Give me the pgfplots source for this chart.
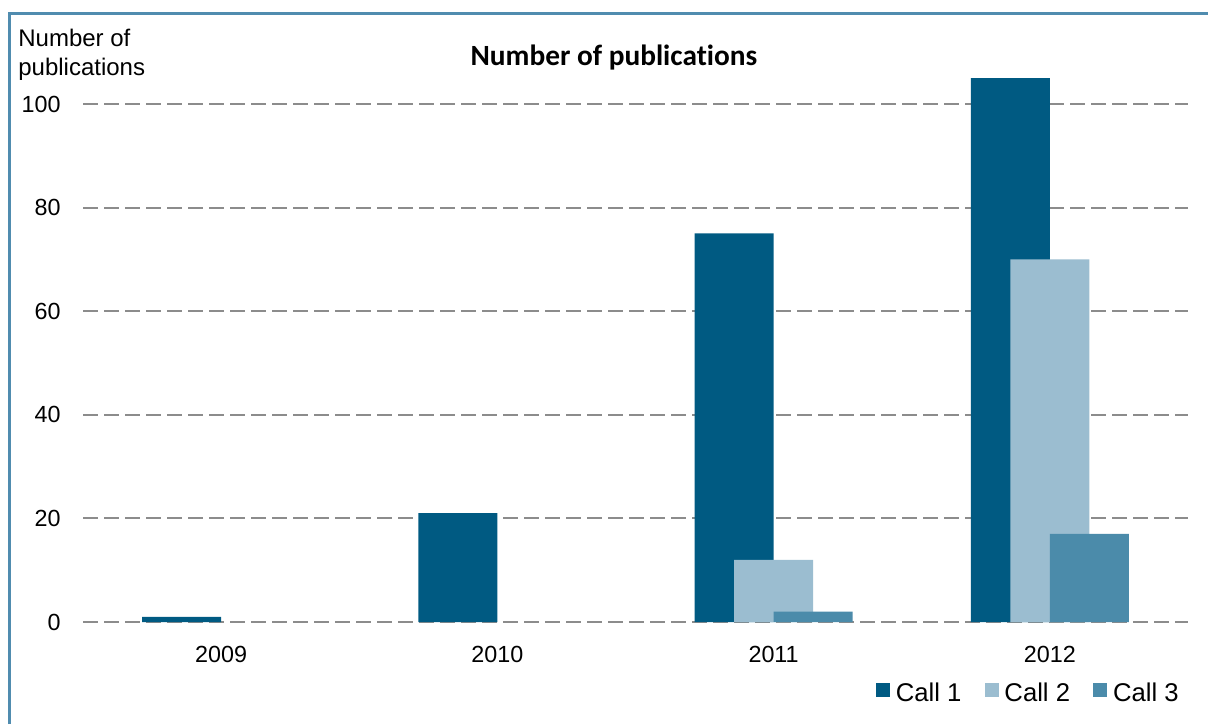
\documentclass[border=0pt]{standalone}
\usepackage{fontspec}
\setmainfont{Liberation Sans}
\newfontfamily\titlefont[Ligatures={NoCommon}]{Carlito}
\usepackage{pgfplots}
\pgfplotsset{compat=1.18}
\definecolor{cA}{RGB}{0,90,130}
\definecolor{cB}{RGB}{155,189,208}
\definecolor{cC}{RGB}{75,139,170}
\definecolor{framec}{RGB}{80,140,175}
\definecolor{gridc}{RGB}{140,140,140}
\pgfplotsset{mybar/.style={ybar, bar width=47.4pt, draw=none,
  legend image code/.code={\fill[##1] (0pt,-2.4pt) rectangle (8.4pt,6.0pt);}}}
\begin{document}
\begin{tikzpicture}
\useasboundingbox (0,0) rectangle (724.8pt,434.4pt);
\draw[framec, line width=1.8pt] (5.4pt,0pt) -- (5.4pt,426pt) -- (724.8pt,426pt);
\begin{axis}[
  at={(49.8pt,61.2pt)}, anchor=south west,
  scale only axis, width=663pt, height=341.9pt,
  xmin=-0.5, xmax=3.5, ymin=0, ymax=110,
  axis x line*=bottom, axis y line*=left,
  axis line style={draw=none}, tick style={draw=none},
  major tick length=0pt,
  ytick={0,20,40,60,80,100},
  xtick={0,1,2,3}, xticklabels={2009,2010,2011,2012},
  ymajorgrids, xmajorgrids=false,
  major grid style={gridc, line width=1.2pt, dash pattern=on 8.7pt off 3.9pt},
  tick label style={font=\fontsize{14}{16}\selectfont},
  /pgf/number format/assume math mode=true,
  xticklabel style={inner sep=0pt, anchor=north, yshift=-14.2pt},
  yticklabel style={inner sep=0pt, anchor=east, xshift=-13.2pt},
  title={Number of publications},
  title style={font=\titlefont\bfseries\fontsize{17.6}{20}\selectfont, at={(0.4805,0.9587)}, anchor=base, inner sep=0pt},
  ylabel={Number of\\publications},
  ylabel style={rotate=-90, at={(-0.0588,1.0404)}, anchor=north west, inner sep=0pt, align=left, font=\fontsize{14.4}{17.4}\selectfont},
  legend style={at={(0.9919,-0.1246)}, anchor=east, draw=none, fill=none, inner sep=0pt,
    font=\fontsize{15.4}{18}\selectfont, legend columns=-1,
    /tikz/every odd column/.append style={column sep=3.4pt},
    /tikz/every even column/.append style={column sep=14pt},
    nodes={inner sep=0pt}},
]
\addplot[mybar, fill=cA, bar shift=-23.7pt] coordinates {(0,1) (1,21) (2,75) (3,105)};
\addplot[mybar, fill=cB, bar shift=0pt] coordinates {(2,12) (3,70)};
\addplot[mybar, fill=cC, bar shift=23.7pt] coordinates {(2,2) (3,17)};
\legend{Call 1, Call 2, Call 3}
\end{axis}
\end{tikzpicture}
\end{document}
